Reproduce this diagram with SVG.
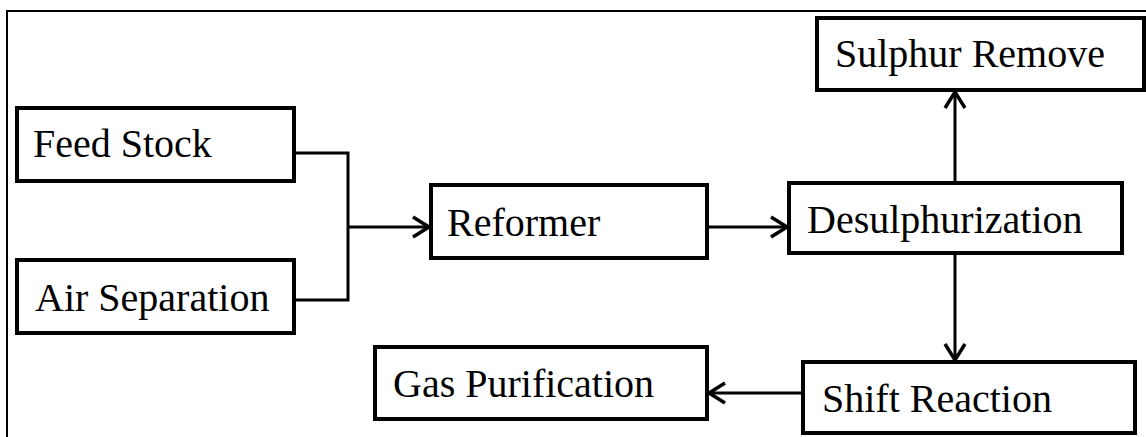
<svg xmlns="http://www.w3.org/2000/svg" width="1146" height="437" viewBox="0 0 1146 437">
<style>
.box{fill:#fff;stroke:#000;stroke-width:4}
.lbl{font-family:"Liberation Serif","Times New Roman",serif;font-size:40px;fill:#000}
.con{fill:none;stroke:#000;stroke-width:3}
</style>
<defs>
<marker id="arr" markerUnits="userSpaceOnUse" markerWidth="24" markerHeight="24" viewBox="0 0 24 24" refX="20" refY="12" orient="auto">
<path d="M4,2 L20,12 L4,22" fill="none" stroke="#000" stroke-width="3.5" stroke-linejoin="miter"/>
</marker>
</defs>
<rect width="1146" height="437" fill="#fff"/>
<path d="M7,437 V11 H1146" fill="none" stroke="#000" stroke-width="2"/>
<g id="connectors">
<polyline class="con" points="294,153 348,153 348,300 294,300"/>
<line class="con" x1="348" y1="227" x2="429" y2="227" marker-end="url(#arr)"/>
<line class="con" x1="707" y1="227" x2="787" y2="227" marker-end="url(#arr)"/>
<line class="con" x1="955" y1="183" x2="955" y2="92" marker-end="url(#arr)"/>
<line class="con" x1="955" y1="253" x2="955" y2="360" marker-end="url(#arr)"/>
<line class="con" x1="803" y1="393" x2="709" y2="393" marker-end="url(#arr)"/>
</g>
<g id="feed-stock"><rect class="box" x="17" y="108" width="277" height="73"/><text class="lbl" x="33" y="157">Feed Stock</text></g>
<g id="air-separation"><rect class="box" x="17" y="260" width="277" height="73"/><text class="lbl" x="35" y="311">Air Separation</text></g>
<g id="reformer"><rect class="box" x="431" y="185" width="276" height="73"/><text class="lbl" x="447" y="236">Reformer</text></g>
<g id="desulphurization"><rect class="box" x="789" y="183" width="333" height="70"/><text class="lbl" x="807" y="233">Desulphurization</text></g>
<g id="sulphur-remove"><rect class="box" x="817" y="18" width="327" height="72"/><text class="lbl" x="835" y="67">Sulphur Remove</text></g>
<g id="shift-reaction"><rect class="box" x="803" y="362" width="332" height="71"/><text class="lbl" x="822" y="412">Shift Reaction</text></g>
<g id="gas-purification"><rect class="box" x="375" y="347" width="332" height="72"/><text class="lbl" x="393" y="397">Gas Purification</text></g>
</svg>
